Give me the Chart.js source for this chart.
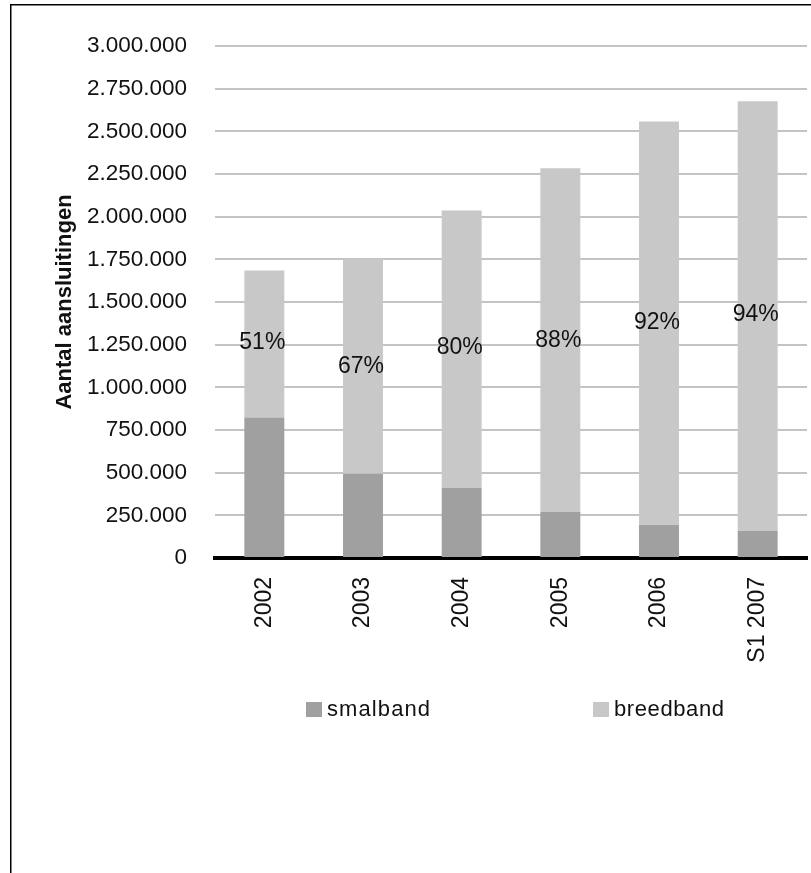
<!DOCTYPE html>
<html><head><meta charset="utf-8">
<script src="https://cdn.jsdelivr.net/npm/chart.js@4.4.1/dist/chart.umd.min.js"></script>
<style>
html,body{margin:0;padding:0;background:#fff;overflow:hidden}
#wrap{position:relative;width:811px;height:873px}
canvas{display:block}
</style>
</head><body>
<div id="wrap"><canvas id="c" width="811" height="873"></canvas></div>
<script>
// ---- data ----
const categories = ['2002', '2003', '2004', '2005', '2006', 'S1 2007'];
const smalband = [823000, 493000, 411000, 270000, 194000, 158000];
const breedband = [861000, 1256000, 1625000, 2013000, 2364000, 2518000];
const shareLabels = ['51%', '67%', '80%', '88%', '92%', '94%'];
const shareLabelAt = [1262000, 1121000, 1232000, 1273000, 1379000, 1423000];
const seriesNames = ['smalband', 'breedband'];
const yAxisTitle = 'Aantal aansluitingen';
const yMin = 0, yMax = 3000000, yStep = 250000;

// ---- styles ----
const FONT = "'Liberation Sans', Arial, sans-serif";
const colSmal = '#a0a0a0';
const colBreed = '#c8c8c8';

function nlFormat(v) {
  return String(Math.round(v)).replace(/\B(?=(\d{3})+(?!\d))/g, '.');
}

const framePlugin = {
  id: 'frame',
  beforeDraw(chart) {
    const ctx = chart.ctx;
    ctx.save();
    ctx.fillStyle = '#fff';
    ctx.fillRect(0, 0, chart.width, chart.height);
    ctx.strokeStyle = '#000';
    ctx.lineWidth = 1.5;
    ctx.beginPath();
    ctx.moveTo(10.75, chart.height);
    ctx.lineTo(10.75, 4.75);
    ctx.lineTo(chart.width, 4.75);
    ctx.stroke();
    ctx.restore();
  }
};

const shareLabelPlugin = {
  id: 'shareLabels',
  afterDatasetsDraw(chart) {
    const ctx = chart.ctx;
    const xs = chart.scales.x, ys = chart.scales.y;
    ctx.save();
    ctx.font = '23px ' + FONT;
    ctx.fillStyle = '#111';
    ctx.textAlign = 'center';
    ctx.textBaseline = 'middle';
    shareLabels.forEach((t, i) => {
      ctx.fillText(t, xs.getPixelForValue(i) - 2, ys.getPixelForValue(shareLabelAt[i]));
    });
    ctx.restore();
  }
};

const legendPlugin = {
  id: 'customLegend',
  afterDraw(chart) {
    const ctx = chart.ctx;
    const itemX = [306, 593];
    const boxY = 702, boxW = 16, boxH = 15;
    ctx.save();
    ctx.font = '22px ' + FONT;
    ctx.textBaseline = 'middle';
    ctx.textAlign = 'left';
    chart.data.datasets.forEach((ds, i) => {
      if ('letterSpacing' in ctx) ctx.letterSpacing = i === 0 ? '1.1px' : '0.6px';
      ctx.fillStyle = ds.backgroundColor;
      ctx.fillRect(itemX[i], boxY, boxW, boxH);
      ctx.fillStyle = '#111';
      ctx.fillText(ds.label, itemX[i] + boxW + 5, boxY + boxH / 2 + 0.5);
    });
    ctx.restore();
  }
};

new Chart(document.getElementById('c'), {
  type: 'bar',
  data: {
    labels: categories,
    datasets: [
      { label: seriesNames[0], data: smalband, backgroundColor: colSmal, borderWidth: 0,
        barPercentage: 0.405, categoryPercentage: 1.0 },
      { label: seriesNames[1], data: breedband, backgroundColor: colBreed, borderWidth: 0,
        barPercentage: 0.405, categoryPercentage: 1.0 }
    ]
  },
  options: {
    responsive: false,
    animation: false,
    devicePixelRatio: 1,
    layout: { padding: { left: 40, right: 4, top: 46, bottom: 0 } },
    plugins: {
      legend: { display: false },
      tooltip: { enabled: false },
      title: { display: false }
    },
    scales: {
      x: {
        stacked: true,
        grid: { display: false, drawTicks: false },
        border: { display: true, color: '#000', width: 4 },
        ticks: {
          color: '#111', font: { family: FONT, size: 23 },
          minRotation: 90, maxRotation: 90, padding: 19, autoSkip: false
        },
        afterFit(scale) { scale.height = 315; }
      },
      y: {
        stacked: true,
        min: yMin, max: yMax,
        grid: { color: '#c4c4c4', lineWidth: 2, drawTicks: false },
        border: { display: false },
        ticks: {
          stepSize: yStep, padding: 28, color: '#111',
          font: { family: FONT, size: 22.5 },
          callback: (v) => nlFormat(v)
        },
        title: {
          display: true, text: yAxisTitle, color: '#111',
          font: { family: FONT, size: 22, weight: 'bold' },
          padding: { top: 12, bottom: 0 }
        },
        afterFit(scale) { scale.width = 175; }
      }
    }
  },
  plugins: [framePlugin, shareLabelPlugin, legendPlugin]
});
</script>
</body></html>
